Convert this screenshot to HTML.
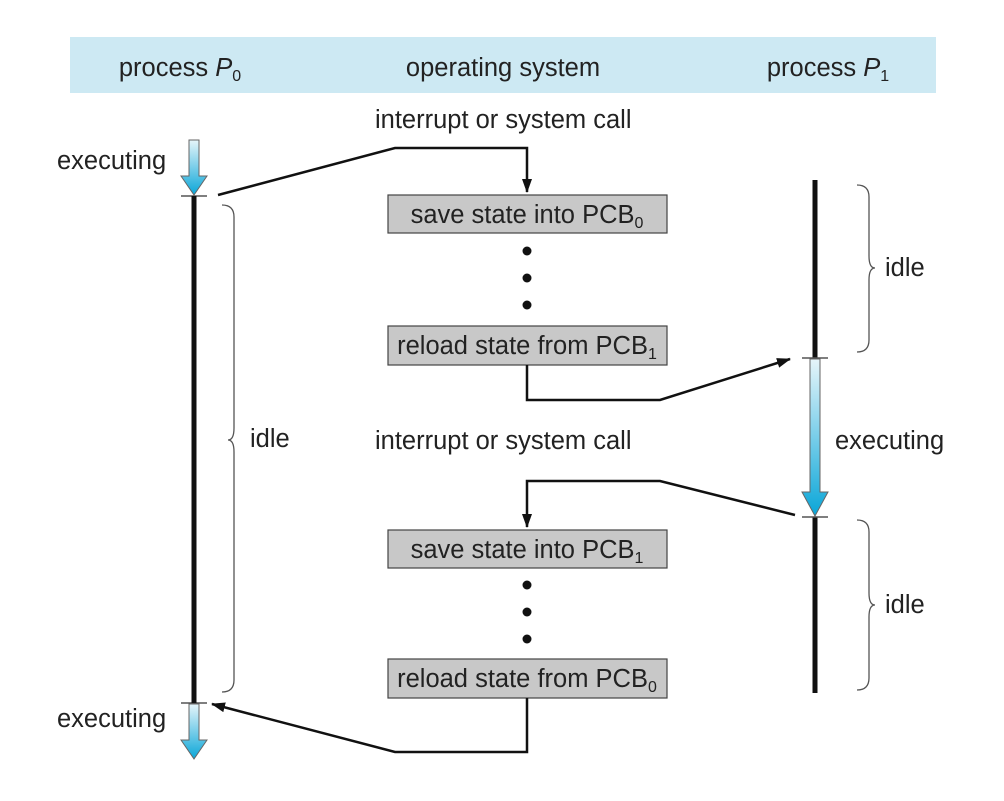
<!DOCTYPE html>
<html><head><style>body{margin:0;background:#fff}svg{display:block}text{font-family:"Liberation Sans",sans-serif;font-size:25.5px;fill:#222}</style></head><body>
<svg width="1004" height="801" viewBox="0 0 1004 801">
<defs>
<linearGradient id="g" x1="0" y1="0" x2="0" y2="1"><stop offset="0" stop-color="#e6f5fa"/><stop offset="1" stop-color="#0aa6d8"/></linearGradient>
<marker id="ah" markerWidth="14" markerHeight="10" refX="13" refY="5" orient="auto" markerUnits="userSpaceOnUse"><path d="M0,0 L14,5 L0,10 Z" fill="#111"/></marker>
</defs>
<rect x="70" y="37" width="866" height="56" fill="#cde9f3"/>
<text x="180" y="76" text-anchor="middle">process <tspan font-style="italic">P</tspan><tspan font-size="16" dy="5">0</tspan></text>
<text x="503" y="76" text-anchor="middle">operating system</text>
<text x="828" y="76" text-anchor="middle">process <tspan font-style="italic">P</tspan><tspan font-size="16" dy="5">1</tspan></text>
<text x="375" y="128">interrupt or system call</text>
<text x="375" y="449">interrupt or system call</text>
<text x="57" y="169">executing</text>
<text x="57" y="727">executing</text>
<text x="835" y="449">executing</text>
<text x="250" y="447">idle</text>
<text x="885" y="276">idle</text>
<text x="885" y="613">idle</text>
<path d="M189,140 h10 v36 h8 l-13,19 l-13,-19 h8 z" fill="url(#g)" stroke="#666" stroke-width="1"/>
<path d="M189,704 h10 v36 h8 l-13,19 l-13,-19 h8 z" fill="url(#g)" stroke="#666" stroke-width="1"/>
<line x1="181" y1="196" x2="207" y2="196" stroke="#555" stroke-width="1.5"/>
<line x1="181" y1="703" x2="207" y2="703" stroke="#555" stroke-width="1.5"/>
<line x1="194" y1="196" x2="194" y2="703" stroke="#111" stroke-width="5"/>
<line x1="815" y1="180" x2="815" y2="358" stroke="#111" stroke-width="5"/>
<line x1="815" y1="517" x2="815" y2="693" stroke="#111" stroke-width="5"/>
<path d="M810,359 h10 v133 h8 l-13,24 l-13,-24 h8 z" fill="url(#g)" stroke="#666" stroke-width="1"/>
<line x1="802" y1="358" x2="828" y2="358" stroke="#555" stroke-width="1.5"/>
<line x1="802" y1="517" x2="828" y2="517" stroke="#555" stroke-width="1.5"/>
<g fill="none" stroke="#555" stroke-width="1.3">
<path d="M222,205 q12,0 12,12 v211 q0,12 -6,12 q6,0 6,12 v228 q0,12 -12,12"/>
<path d="M857,185 q12,0 12,12 v59 q0,12 6,12 q-6,0 -6,12 v60 q0,12 -12,12"/>
<path d="M857,520 q12,0 12,12 v61 q0,12 6,12 q-6,0 -6,12 v61 q0,12 -12,12"/>
</g>
<g fill="#c8c8c8" stroke="#444" stroke-width="1.2">
<rect x="388" y="195" width="279" height="38"/>
<rect x="388" y="326" width="279" height="39"/>
<rect x="388" y="530" width="279" height="38"/>
<rect x="388" y="659" width="279" height="39"/>
</g>
<text x="527" y="223" text-anchor="middle">save state into PCB<tspan font-size="16" dy="5">0</tspan></text>
<text x="527" y="354" text-anchor="middle">reload state from PCB<tspan font-size="16" dy="5">1</tspan></text>
<text x="527" y="558" text-anchor="middle">save state into PCB<tspan font-size="16" dy="5">1</tspan></text>
<text x="527" y="687" text-anchor="middle">reload state from PCB<tspan font-size="16" dy="5">0</tspan></text>
<g fill="#111"><circle cx="527" cy="251" r="4.5"/><circle cx="527" cy="278" r="4.5"/><circle cx="527" cy="305" r="4.5"/><circle cx="527" cy="585" r="4.5"/><circle cx="527" cy="612" r="4.5"/><circle cx="527" cy="639" r="4.5"/></g>
<g fill="none" stroke="#111" stroke-width="2.5" marker-end="url(#ah)">
<polyline points="218,195 395,148 527,148 527,192"/>
<polyline points="527,365 527,400 660,400 790,359"/>
<polyline points="795,515 660,481 527,481 527,527"/>
<polyline points="527,698 527,752 395,752 212,704"/>
</g>
</svg>
</body></html>
